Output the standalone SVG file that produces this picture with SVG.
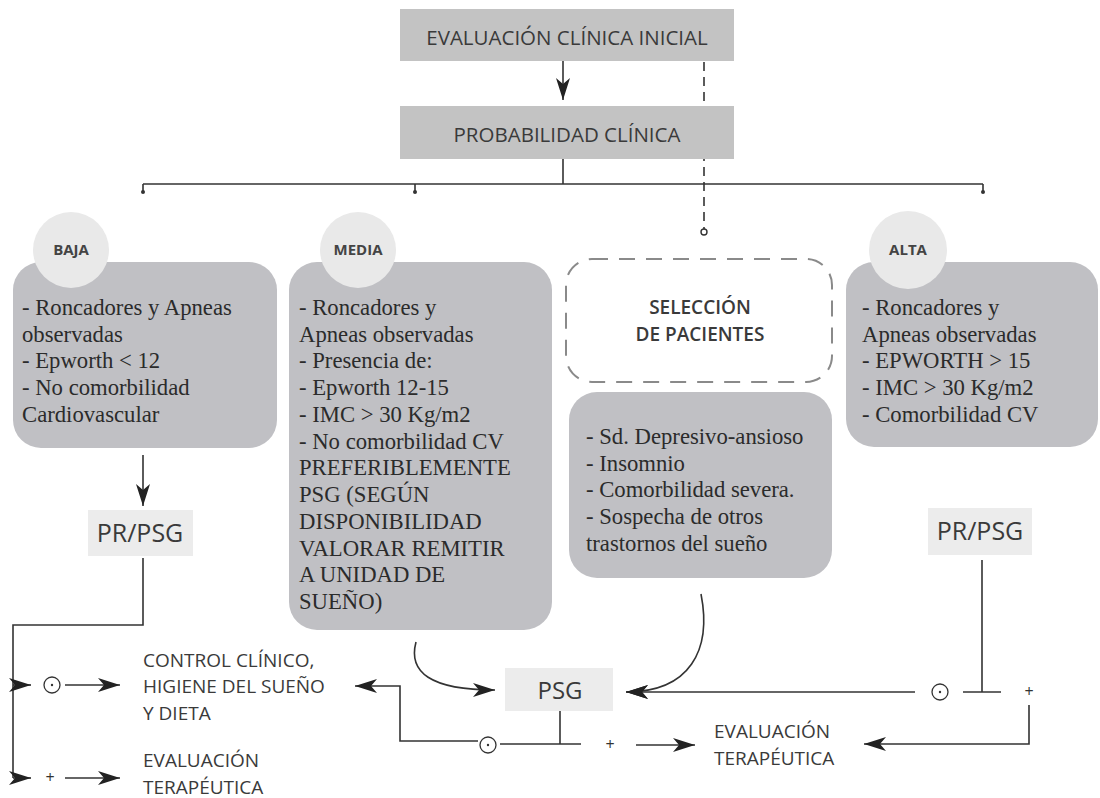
<svg xmlns="http://www.w3.org/2000/svg" width="1100" height="798" viewBox="0 0 1100 798">
<defs>
<style>
.top{fill:#c3c3c3}
.gbox{fill:#c0c0c4}
.lbox{fill:#ececec}
.circ{fill:#e9e9e9}
.sans{font-family:"Open Sans","Noto Sans",sans-serif;fill:#3a3a3a}
.ser{font-family:"Liberation Serif","Times New Roman",serif;font-size:22.7px;fill:#2b2b2b}
.cl{font-family:"Open Sans",sans-serif;font-weight:bold;font-size:15px;fill:#444}
.ln{stroke:#333;stroke-width:1.6;fill:none}
.dash{stroke:#333;stroke-width:1.6;fill:none;stroke-dasharray:9 6}
.sg{fill:#fff;stroke:#333;stroke-width:1.3}
</style>
<marker id="ah" viewBox="0 0 22 14" refX="22" refY="7" markerWidth="22" markerHeight="14" markerUnits="userSpaceOnUse" orient="auto">
<path d="M0,0 L22,7 L0,14 L6,7 Z" fill="#222"/>
</marker>
</defs>
<rect width="1100" height="798" fill="#fff"/>

<g id="connectors">
<line class="ln" x1="563" y1="61" x2="563" y2="100" marker-end="url(#ah)"/>
<line class="ln" x1="563" y1="159" x2="563" y2="184"/>
<line class="ln" x1="143" y1="184" x2="983" y2="184"/>
<line class="ln" x1="143" y1="184" x2="143" y2="192"/>
<line class="ln" x1="415" y1="184" x2="415" y2="192"/>
<line class="ln" x1="983" y1="184" x2="983" y2="192"/>
<circle cx="143" cy="192" r="2" fill="#333"/>
<circle cx="415" cy="192" r="2" fill="#333"/>
<circle cx="983" cy="192" r="2" fill="#333"/>
<line class="dash" x1="704" y1="62" x2="704" y2="229"/>
<circle cx="704" cy="232" r="3" fill="#fff" stroke="#333" stroke-width="1.4"/>
<line class="ln" x1="143" y1="455" x2="143" y2="506" marker-end="url(#ah)"/>
<polyline class="ln" points="143,558 143,625 13,625 13,778"/>
<line class="ln" x1="13" y1="685" x2="31" y2="685" marker-end="url(#ah)"/>
<line class="ln" x1="13" y1="778" x2="31" y2="778" marker-end="url(#ah)"/>
<line class="ln" x1="65" y1="685" x2="120" y2="685" marker-end="url(#ah)"/>
<line class="ln" x1="65" y1="778" x2="120" y2="778" marker-end="url(#ah)"/>
<polyline class="ln" points="478,741 400,741 400,686 355,686" marker-end="url(#ah)"/>
<path class="ln" d="M416,642 C408,672 430,690 495,690" marker-end="url(#ah)"/>
<path class="ln" d="M701,594 C712,650 690,692 626,692" marker-end="url(#ah)"/>
<line class="ln" x1="915" y1="692" x2="626" y2="692" marker-end="url(#ah)"/>
<line class="ln" x1="963" y1="692" x2="1001" y2="692"/>
<line class="ln" x1="982" y1="560" x2="982" y2="692"/>
<polyline class="ln" points="1029,705 1029,744 864,744" marker-end="url(#ah)"/>
<line class="ln" x1="560" y1="710" x2="560" y2="744"/>
<line class="ln" x1="500" y1="744" x2="581" y2="744"/>
<line class="ln" x1="636" y1="745" x2="695" y2="745" marker-end="url(#ah)"/>
</g>

<g id="eval-inicial">
<rect class="top" x="400" y="9" width="334" height="52"/>
<text class="sans" x="567" y="45" font-size="20.5" text-anchor="middle">EVALUACIÓN CLÍNICA INICIAL</text>
</g>
<g id="probabilidad">
<rect class="top" x="400" y="106" width="334" height="53"/>
<text class="sans" x="567" y="142" font-size="20.5" text-anchor="middle">PROBABILIDAD CLÍNICA</text>
</g>

<g id="baja">
<rect class="gbox" x="13" y="262" width="264" height="186" rx="28"/>
<circle class="circ" cx="71" cy="250" r="38"/>
<text class="cl" x="71" y="255" text-anchor="middle">BAJA</text>
<text class="ser" x="22" y="315">- Roncadores y Apneas</text>
<text class="ser" x="22" y="342">observadas</text>
<text class="ser" x="22" y="368">- Epworth &lt; 12</text>
<text class="ser" x="22" y="395">- No comorbilidad</text>
<text class="ser" x="22" y="422">Cardiovascular</text>
</g>

<g id="media">
<rect class="gbox" x="289" y="262" width="263" height="368" rx="28"/>
<circle class="circ" cx="358" cy="250" r="38"/>
<text class="cl" x="358" y="255" text-anchor="middle">MEDIA</text>
<text class="ser" x="299" y="315">- Roncadores y</text>
<text class="ser" x="299" y="342">Apneas observadas</text>
<text class="ser" x="299" y="368">- Presencia de:</text>
<text class="ser" x="299" y="395">- Epworth 12-15</text>
<text class="ser" x="299" y="422">- IMC &gt; 30 Kg/m2</text>
<text class="ser" x="299" y="449">- No comorbilidad CV</text>
<text class="ser" x="299" y="475">PREFERIBLEMENTE</text>
<text class="ser" x="299" y="502">PSG (SEGÚN</text>
<text class="ser" x="299" y="529">DISPONIBILIDAD</text>
<text class="ser" x="299" y="556">VALORAR REMITIR</text>
<text class="ser" x="299" y="582">A UNIDAD DE</text>
<text class="ser" x="299" y="609">SUEÑO)</text>
</g>

<g id="seleccion">
<rect x="566" y="259" width="266" height="123" rx="26" fill="#fff" stroke="#8a8a8a" stroke-width="2" stroke-dasharray="16 11"/>
<text class="sans" x="700" y="314" font-size="19" font-weight="600" text-anchor="middle">SELECCIÓN</text>
<text class="sans" x="700" y="341" font-size="19" font-weight="600" text-anchor="middle">DE PACIENTES</text>
</g>

<g id="otros">
<rect class="gbox" x="569" y="392" width="263" height="186" rx="28"/>
<text class="ser" x="586" y="444">- Sd. Depresivo-ansioso</text>
<text class="ser" x="586" y="471">- Insomnio</text>
<text class="ser" x="586" y="497">- Comorbilidad severa.</text>
<text class="ser" x="586" y="524">- Sospecha de otros</text>
<text class="ser" x="586" y="551">trastornos del sueño</text>
</g>

<g id="alta">
<rect class="gbox" x="846" y="262" width="252" height="185" rx="28"/>
<circle class="circ" cx="908" cy="250" r="39"/>
<text class="cl" x="908" y="255" text-anchor="middle">ALTA</text>
<text class="ser" x="862" y="315">- Roncadores y</text>
<text class="ser" x="862" y="342">Apneas observadas</text>
<text class="ser" x="862" y="368">- EPWORTH &gt; 15</text>
<text class="ser" x="862" y="395">- IMC &gt; 30 Kg/m2</text>
<text class="ser" x="862" y="422">- Comorbilidad CV</text>
</g>

<g id="prpsg-baja">
<rect class="lbox" x="88" y="510" width="105" height="46"/>
<text class="sans" x="140" y="542" font-size="25" text-anchor="middle">PR/PSG</text>
</g>
<g id="prpsg-alta">
<rect class="lbox" x="928" y="508" width="104" height="47"/>
<text class="sans" x="980" y="540" font-size="25" text-anchor="middle">PR/PSG</text>
</g>
<g id="psg">
<rect class="lbox" x="505" y="668" width="108" height="43"/>
<text class="sans" x="560" y="699" font-size="24" text-anchor="middle">PSG</text>
</g>

<g id="signos">
<circle class="sg" cx="52" cy="685" r="8"/>
<circle cx="52" cy="685" r="1.2" fill="#333"/>
<text x="50" y="783" font-family="Open Sans,sans-serif" font-size="16" fill="#333" text-anchor="middle">+</text>
<circle class="sg" cx="488" cy="745" r="8"/>
<circle cx="488" cy="745" r="1.2" fill="#333"/>
<text x="610" y="750" font-family="Open Sans,sans-serif" font-size="16" fill="#333" text-anchor="middle">+</text>
<circle class="sg" cx="940" cy="692" r="8"/>
<circle cx="940" cy="692" r="1.2" fill="#333"/>
<text x="1029" y="697" font-family="Open Sans,sans-serif" font-size="16" fill="#333" text-anchor="middle">+</text>
</g>

<g id="control-clinico">
<text class="sans" x="143" y="667" font-size="19">CONTROL CLÍNICO,</text>
<text class="sans" x="143" y="693" font-size="19">HIGIENE DEL SUEÑO</text>
<text class="sans" x="143" y="720" font-size="19">Y DIETA</text>
</g>
<g id="eval-terapeutica-1">
<text class="sans" x="143" y="767" font-size="19">EVALUACIÓN</text>
<text class="sans" x="143" y="794" font-size="19">TERAPÉUTICA</text>
</g>
<g id="eval-terapeutica-2">
<text class="sans" x="714" y="738" font-size="19">EVALUACIÓN</text>
<text class="sans" x="714" y="765" font-size="19">TERAPÉUTICA</text>
</g>
</svg>
